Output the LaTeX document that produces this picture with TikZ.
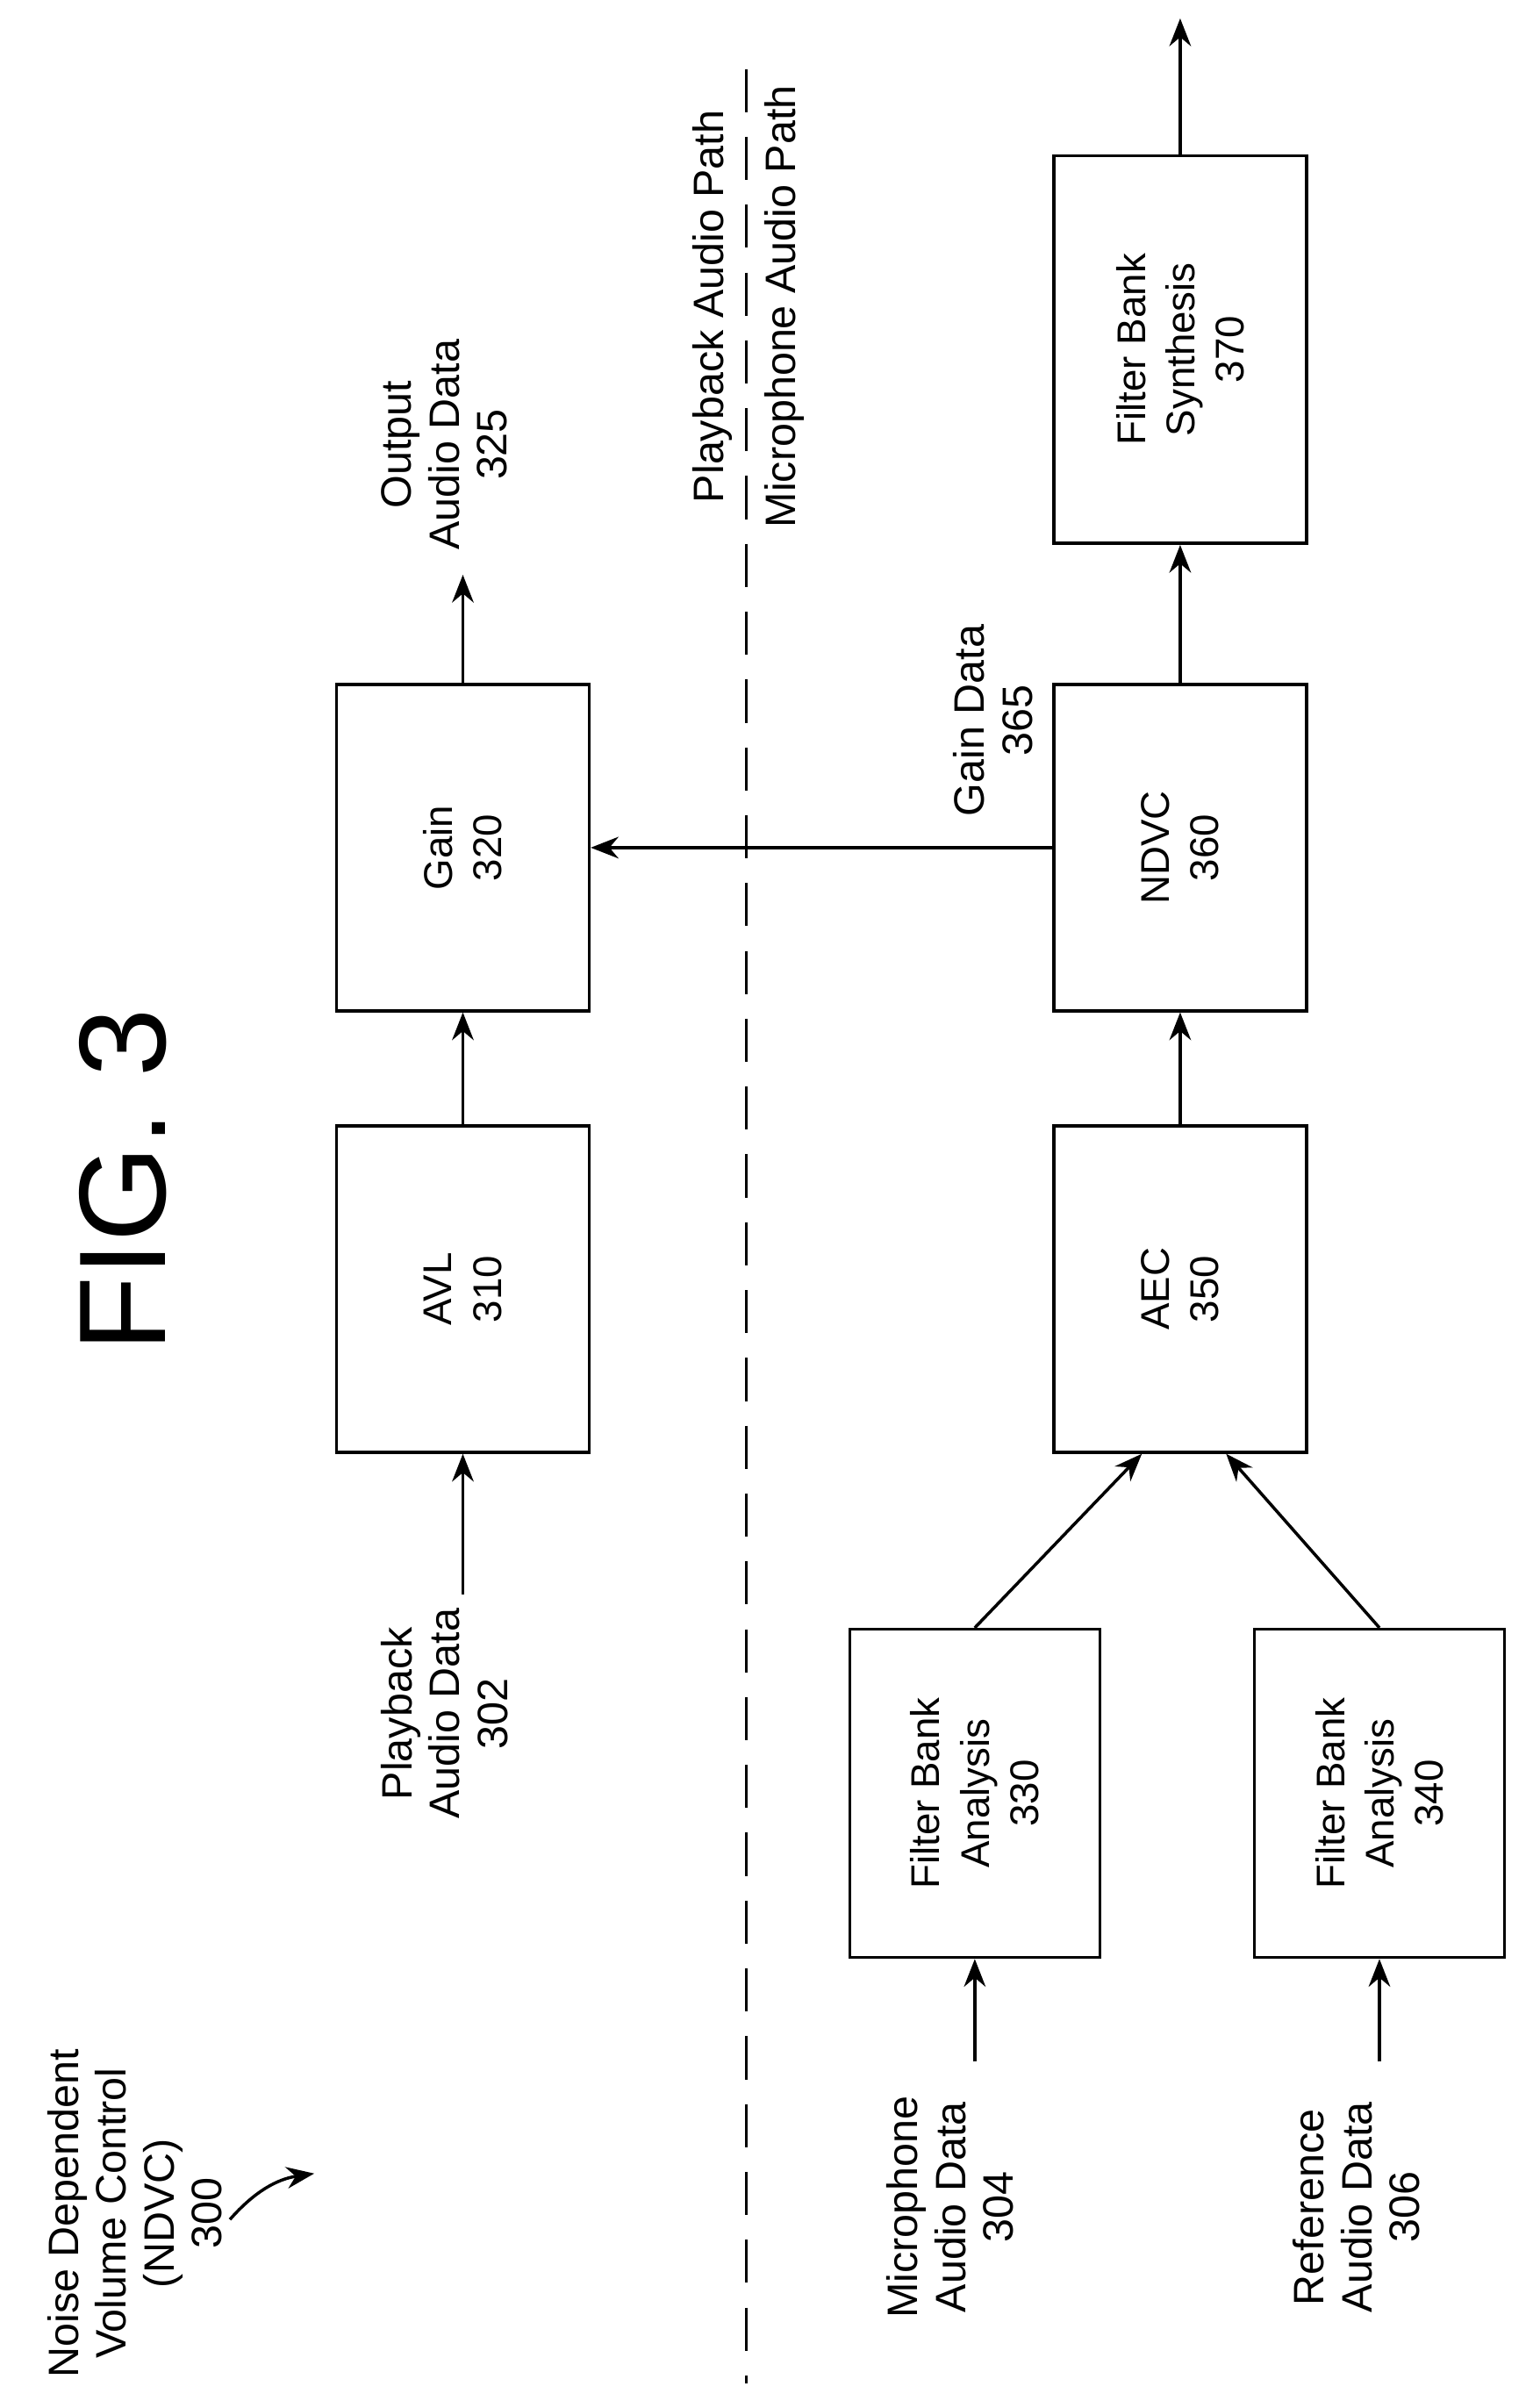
\documentclass[tikz,border=0pt]{standalone}
\usepackage{fontspec}
\setmainfont{Liberation Sans}
\usetikzlibrary{arrows.meta,calc}
\tikzset{
  box/.style={draw, line width=1pt, rotate=90, minimum width=3.72cm, minimum height=2.88cm, align=center, font=\fontsize{13}{16}\selectfont},
  lbl/.style={rotate=90, align=center, font=\fontsize{13.8}{15.5}\selectfont},
  flow/.style={-{Stealth[length=9pt,width=7pt]}, line width=1pt},
}
\begin{document}
\begin{tikzpicture}[x=0.01747cm, y=-0.01747cm]
    \useasboundingbox (0,0) rectangle (1000,1571);
    \node[rotate=90, font=\fontsize{40}{40}\selectfont] (FIG) at (80,770) {FIG. 3};
    \node[lbl] (TITLE) at (88,1444) {Noise Dependent\\Volume Control\\(NDVC)\\300};
    \coordinate (TA) at (150,1448);
    \coordinate (TB) at (205,1418);
    \draw [flow] (TA) to [bend left=20] (TB);
    % playback path
    \node[box] (AVL) at (302,841) {AVL\\310};
    \node[box] (GAIN) at (302,553) {Gain\\320};
    \node[lbl] (PAD) at (290,1118) {Playback\\Audio Data\\302};
    \node[lbl] (OAD) at (290,290) {Output\\Audio Data\\325};
    \coordinate (PIN) at (302,1040);
    \coordinate (POUT) at (302,375);
    \draw [flow] (PIN) -- (AVL.west);
    \draw [flow] (AVL.east) -- (GAIN.west);
    \draw [flow] (GAIN.east) -- (POUT);
    % divider
    \coordinate (D1) at (487,45);
    \coordinate (D2) at (487,1555);
    \draw [dashed, dash pattern=on 14pt off 8pt, line width=0.8pt] (D1) -- (D2);
    \node[lbl] (PAP) at (465,200) {Playback Audio Path};
    \node[lbl] (MAP) at (512,200) {Microphone Audio Path};
    % microphone path
    \node[box, minimum width=3.74cm, minimum height=2.85cm] (FBA1) at (636,1170) {Filter Bank\\Analysis\\330};
    \node[box, minimum width=3.74cm, minimum height=2.85cm] (FBA2) at (900,1170) {Filter Bank\\Analysis\\340};
    \node[box] (AEC) at (770,841) {AEC\\350};
    \node[box] (NDVC) at (770,553) {NDVC\\360};
    \node[box, minimum width=4.42cm] (FBS) at (770,228) {Filter Bank\\Synthesis\\370};
    \node[lbl] (MAD) at (620,1440) {Microphone\\Audio Data\\304};
    \node[lbl] (RAD) at (885,1440) {Reference\\Audio Data\\306};
    \node[lbl] (GD) at (648,470) {Gain Data\\365};
    \coordinate (MIN) at (636,1345);
    \coordinate (RIN) at (900,1345);
    \coordinate (SOUT) at (770,12);
    \draw [flow] (MIN) -- (FBA1.west);
    \draw [flow] (RIN) -- (FBA2.west);
    \draw [flow] (FBA1.east) -- ($(AEC.west)+(-25,0)$);
    \draw [flow] (FBA2.east) -- ($(AEC.west)+(30,0)$);
    \draw [flow] (AEC.east) -- (NDVC.west);
    \draw [flow] (NDVC.east) -- (FBS.west);
    \draw [flow] (FBS.east) -- (SOUT);
    \draw [flow] (NDVC.north) -- (GAIN.south);
\end{tikzpicture}
\end{document}
